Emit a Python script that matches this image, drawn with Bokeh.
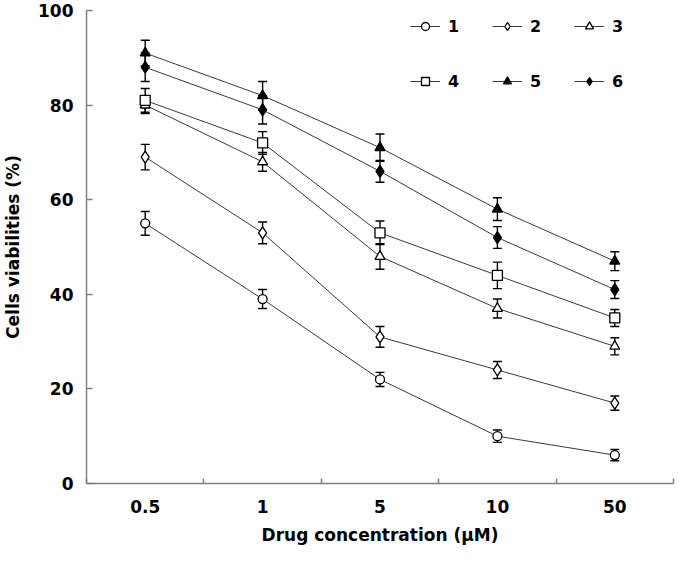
from bokeh.plotting import figure
from bokeh.models import (Range1d, FixedTicker, Whisker, TeeHead, ColumnDataSource,
                          Legend, LegendItem)
from bokeh.core.properties import value
from bokeh.embed import file_html
from bokeh.resources import INLINE

# ---- data ----
concentrations = ["0.5", "1", "5", "10", "50"]
series_names = ["1", "2", "3", "4", "5", "6"]
s1 = [55, 39, 22, 10, 6]
s2 = [69, 53, 31, 24, 17]
s3 = [80, 68, 48, 37, 29]
s4 = [81, 72, 53, 44, 35]
s5 = [91, 82, 71, 58, 47]
s6 = [88, 79, 66, 52, 41]
e1 = [2.5, 2.0, 1.5, 1.3, 1.2]
e2 = [2.7, 2.3, 2.2, 1.8, 1.5]
e3 = [1.8, 2.0, 2.7, 2.0, 1.8]
e4 = [2.5, 2.4, 2.5, 2.8, 1.8]
e5 = [2.7, 3.0, 2.9, 2.4, 2.0]
e6 = [3.0, 3.0, 2.3, 2.3, 1.9]
y_ticks = [0, 20, 40, 60, 80, 100]

values = [s1, s2, s3, s4, s5, s6]
errors = [e1, e2, e3, e4, e5, e6]
markers = ["circle", "diamond", "triangle", "square", "triangle", "diamond"]
fills = ["white", "white", "white", "white", "black", "black"]
sizes = [9, 12, 10, 10, 10, 12]

FONT = "DejaVu Sans"
AXIS_COLOR = "#808080"

xs = list(range(len(concentrations)))

p = figure(width=680, height=547, output_backend="svg", toolbar_location=None,
           x_range=Range1d(-0.5, len(concentrations) - 0.5), y_range=Range1d(0, 100),
           min_border_left=73, min_border_right=7, min_border_top=10, min_border_bottom=56)
p.outline_line_color = None
p.grid.visible = False
p.background_fill_color = "white"

line_rs = []
mark_rs = []
for vals, errs, mk, fc, sz in zip(values, errors, markers, fills, sizes):
    src = ColumnDataSource(dict(
        x=xs, y=vals,
        upper=[v + e for v, e in zip(vals, errs)],
        lower=[v - e for v, e in zip(vals, errs)],
    ))
    lr = p.line("x", "y", source=src, line_color="#3a3a3a", line_width=1)
    w = Whisker(source=src, base="x", upper="upper", lower="lower", dimension="height",
                line_color="black", line_width=1.4,
                upper_head=TeeHead(size=9, line_color="black", line_width=1.4),
                lower_head=TeeHead(size=9, line_color="black", line_width=1.4))
    p.add_layout(w)
    mr = p.scatter("x", "y", source=src, marker=mk, size=sz, fill_color=fc,
                   line_color="black", line_width=1.3)
    line_rs.append(lr)
    mark_rs.append(mr)

# x axis
xa = p.xaxis[0]
xa.ticker = FixedTicker(ticks=xs, minor_ticks=[i - 0.5 for i in range(len(xs) + 1)])
xa.major_label_overrides = {i: c for i, c in zip(xs, concentrations)}
xa.major_tick_line_color = None
xa.minor_tick_in = 5
xa.minor_tick_out = 0
xa.minor_tick_line_color = AXIS_COLOR
xa.minor_tick_line_width = 1.5
xa.axis_line_color = AXIS_COLOR
xa.axis_line_width = 1.5
xa.major_label_standoff = 10
xa.axis_label = "Drug concentration (\u00b5M)"
xa.axis_label_standoff = 9

# y axis
ya = p.yaxis[0]
ya.ticker = FixedTicker(ticks=y_ticks)
ya.major_tick_in = 6
ya.major_tick_out = 0
ya.major_tick_line_color = AXIS_COLOR
ya.major_tick_line_width = 1.5
ya.minor_tick_line_color = None
ya.axis_line_color = AXIS_COLOR
ya.axis_line_width = 1.5
ya.major_label_standoff = 13
ya.axis_label = "Cells viabilities (%)"
ya.axis_label_standoff = 12

for ax in (xa, ya):
    ax.major_label_text_font = FONT
    ax.major_label_text_font_style = "bold"
    ax.major_label_text_font_size = "17px"
    ax.major_label_text_color = "black"
    ax.axis_label_text_font = FONT
    ax.axis_label_text_font_style = "bold"
    ax.axis_label_text_font_size = "17px"
    ax.axis_label_text_color = "black"

# legend: two horizontal rows
rows = [(0, 3, (324, 447)), (3, 6, (324, 392))]
for a, b, loc in rows:
    items = [LegendItem(label=value(series_names[i]), renderers=[line_rs[i], mark_rs[i]])
             for i in range(a, b)]
    leg = Legend(items=items, orientation="horizontal", location=loc,
                 glyph_width=30, glyph_height=20, label_standoff=8, spacing=24,
                 padding=0, margin=0, border_line_color=None, background_fill_alpha=0,
                 label_text_font=FONT, label_text_font_style="bold",
                 label_text_font_size="16px", label_text_color="black")
    p.add_layout(leg)

open("out.html", "w").write(file_html(p, INLINE))
